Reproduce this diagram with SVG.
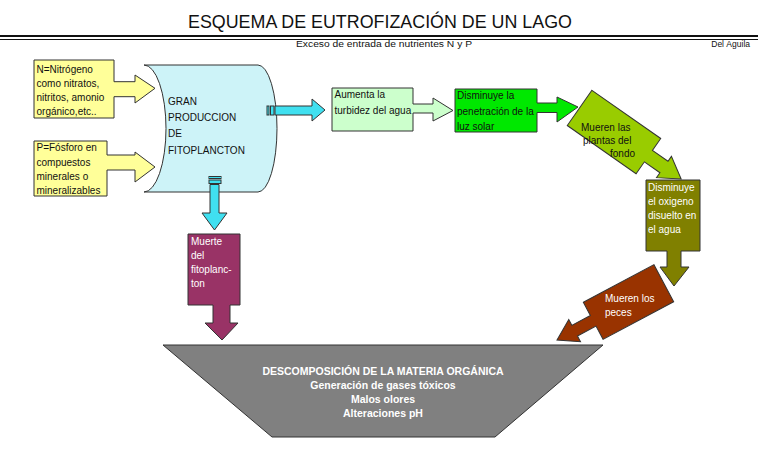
<svg xmlns="http://www.w3.org/2000/svg" width="758" height="453" viewBox="0 0 758 453">
<style>
.s{stroke:#333;stroke-width:1;stroke-linejoin:miter}
.t{font-family:"Liberation Sans",Arial,sans-serif;font-size:10px;fill:#111}
.w{font-family:"Liberation Sans",Arial,sans-serif;font-size:10px;fill:#fff}
.c{font-family:"Liberation Sans",Arial,sans-serif;font-size:10.5px;fill:#fff;font-weight:bold;text-anchor:middle}
</style>
<rect width="758" height="453" fill="#fff"/>
<g id="header">
<text x="380" y="28" font-family="Liberation Sans,Arial,sans-serif" font-size="17.8" fill="#111" text-anchor="middle" textLength="384" lengthAdjust="spacingAndGlyphs">ESQUEMA DE EUTROFIZACIÓN DE UN LAGO</text>
<line x1="0" y1="36" x2="758" y2="36" stroke="#111" stroke-width="2"/>
<line x1="0" y1="39.5" x2="758" y2="39.5" stroke="#111" stroke-width="1"/>
<text x="296" y="46.5" font-family="Liberation Sans,Arial,sans-serif" font-size="8.5" fill="#111" textLength="176" lengthAdjust="spacingAndGlyphs">Exceso de entrada de nutrientes N y P</text>
<text x="750" y="46.5" font-family="Liberation Sans,Arial,sans-serif" font-size="8.5" fill="#111" text-anchor="end">Del Águila</text>
</g>
<g id="nitrogeno">
<path class="s" fill="#ffff99" d="M34,60 H114 V81.7 H135 V75 L155,88.3 L135,103 V96.7 H114 V118 H34 Z"/>
<text class="t" x="36.5" y="72.5">N=Nitrógeno</text>
<text class="t" x="36.5" y="87">como nitratos,</text>
<text class="t" x="36.5" y="101">nitritos, amonio</text>
<text class="t" x="36.5" y="115">orgánico,etc..</text>
</g>
<g id="fosforo">
<path class="s" fill="#ffff99" d="M34,141 H107 V155 H135 V152 L155,167 L135,182 V170 H107 V196 H34 Z"/>
<text class="t" x="36.5" y="151">P=Fósforo en</text>
<text class="t" x="36.5" y="165.5">compuestos</text>
<text class="t" x="36.5" y="180">minerales o</text>
<text class="t" x="36.5" y="194">mineralizables</text>
</g>
<g id="fitoplancton">
<path class="s" fill="#cdf3f8" d="M144,65 H258 A19,63.5 0 0 1 258,192 H144 A22,63.5 0 0 0 144,65 Z"/>
<text class="t" x="168" y="105">GRAN</text>
<text class="t" x="168" y="121">PRODUCCION</text>
<text class="t" x="168" y="137">DE</text>
<text class="t" x="168" y="154">FITOPLANCTON</text>
</g>
<g id="connectors">
<g id="arrow-right-cyan">
<rect class="s" fill="#40e0f0" x="267" y="106" width="2" height="9"/>
<rect class="s" fill="#40e0f0" x="270.5" y="106" width="3.5" height="9"/>
<path class="s" fill="#40e0f0" d="M275,106 H312 V99 L325,110 L312,121 V115 H275 Z"/>
</g>
<g id="arrow-down-cyan">
<rect class="s" fill="#40e0f0" x="209" y="176.5" width="12" height="2"/>
<rect class="s" fill="#40e0f0" x="209" y="180" width="12" height="3.5"/>
<path class="s" fill="#40e0f0" d="M210,184.5 H219 V213 H227 L214.5,230 L202,213 H210 Z"/>
</g>
</g>
<g id="turbidez">
<path class="s" fill="#ccffcc" d="M332,88 H413 V104 H433 V98 L453,110.5 L433,121 V113 H413 V131 H332 Z"/>
<text class="t" x="334.5" y="98">Aumenta la</text>
<text class="t" x="334.5" y="113.5">turbidez del agua</text>
</g>
<g id="penetracion">
<path class="s" fill="#00e800" d="M455,89 H537 V103 H557 V97 L578,107 L557,122 V112.5 H537 V132 H455 Z"/>
<text class="t" x="457" y="99">Disminuye la</text>
<text class="t" x="457" y="115">penetración de la</text>
<text class="t" x="457" y="129.5">luz solar</text>
</g>
<g id="plantas">
<path class="s" fill="#99cc00" transform="translate(614,132) rotate(35)" d="M-42,-21.5 H42 V-7 H61 V-13 L82,0 L61,13 V7 H42 V21.5 H-42 Z"/>
<text class="t" x="581" y="131">Mueren las</text>
<text class="t" x="583" y="144">plantas del</text>
<text class="t" x="610" y="157">fondo</text>
</g>
<g id="oxigeno">
<path class="s" fill="#808000" d="M646,180 H700 V251 H681 V267 H689 L674,286 L660,267 H667 V251 H646 Z"/>
<text class="w" x="648" y="191">Disminuye</text>
<text class="w" x="648" y="205">el oxigeno</text>
<text class="w" x="648" y="219">disuelto en</text>
<text class="w" x="648" y="233">el agua</text>
</g>
<g id="peces">
<path class="s" fill="#993300" transform="translate(628.5,302) rotate(152)" d="M-40,-21 H40 V-6 H61 V-12.5 L81,0 L61,12.5 V6 H40 V21 H-40 Z"/>
<text class="w" x="605" y="302">Mueren los</text>
<text class="w" x="605" y="316">peces</text>
</g>
<g id="muerte">
<path class="s" fill="#993366" d="M188,234 H240 V305 H230 V323 H238 L222,340 L205,323 H213 V305 H188 Z"/>
<text class="w" x="191" y="245">Muerte</text>
<text class="w" x="191" y="259">del</text>
<text class="w" x="191" y="273">fitoplanc-</text>
<text class="w" x="191" y="287">ton</text>
</g>
<g id="descomposicion">
<path class="s" fill="#808080" d="M163,345 H603 L495,437 H272 Z"/>
<text class="c" x="383" y="375">DESCOMPOSICIÓN DE LA MATERIA ORGÁNICA</text>
<text class="c" x="383" y="389">Generación de gases tóxicos</text>
<text class="c" x="383" y="403">Malos olores</text>
<text class="c" x="383" y="417">Alteraciones pH</text>
</g>
</svg>
